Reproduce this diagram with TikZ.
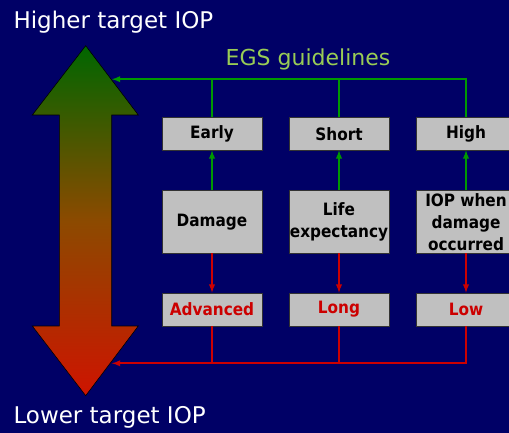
\documentclass[tikz,border=0pt]{standalone}
\usepackage{fontspec}
\setmainfont{DejaVu Sans}
\newfontfamily\boxfont{DejaVu Sans Condensed}
\usepackage{tikz}
\usetikzlibrary{positioning}
\definecolor{navy}{RGB}{0,0,102}
\definecolor{egsgreen}{RGB}{0,153,0}
\definecolor{egstext}{RGB}{153,204,85}
\definecolor{lowred}{RGB}{204,0,0}
\definecolor{boxgray}{RGB}{192,192,192}
\definecolor{arrowtop}{RGB}{0,102,0}
\definecolor{arrowmid}{RGB}{140,74,0}
\definecolor{arrowbot}{RGB}{206,20,0}
\tikzset{
  box/.style={draw=black!80, fill=boxgray, minimum width=100.6pt, minimum height=33pt,
    inner sep=1pt, align=center, font=\boxfont\bfseries\fontsize{17}{22}\selectfont},
  bigbox/.style={box, minimum height=63pt},
  redbox/.style={box, text=lowred},
  upline/.style={egsgreen, line width=1.8pt},
  downline/.style={lowred, line width=1.8pt},
  title/.style={anchor=base west, text=white, font=\fontsize{23}{26}\selectfont}
}

\begin{document}
\begin{tikzpicture}[x=1pt,y=-1pt]
\fill[navy] (0,0) rectangle (509,433);
\useasboundingbox (0,0) rectangle (509,433);
\clip (0,0) rectangle (509,433);
\node[title] (higher) at (10,28.3) {Higher target IOP};
\node[title] (lower) at (10,423) {Lower target IOP};
\node[anchor=base, text=egstext, font=\fontsize{22}{26}\selectfont] (egs) at (308,66) {EGS guidelines};
% double arrow
\shade[top color=arrowtop, bottom color=arrowbot, middle color=arrowmid, draw=black, line width=0.6pt]
  (85.7,45.7) -- (138.3,115) -- (111.7,115) -- (111.7,326) -- (138.3,326) -- (85.7,395.7)
  -- (32.3,326) -- (59.3,326) -- (59.3,115) -- (32.3,115) -- cycle;
\coordinate (hi) at (112,79.2);
\coordinate (lo) at (112,363.3);
\node[box] (early) at (212,133.7) {Early};
\node[box] (short) at (339,133.7) {Short};
\node[box] (high) at (466,133.7) {High};
\node[bigbox] (damage) at (212,221.7) {Damage};
\node[bigbox] (life) at (339,221.7) {Life\\expectancy};
\node[bigbox] (iop) at (466,221.7) {IOP when\\damage\\occurred};
\node[redbox] (advanced) at (212,309.3) {Advanced};
\node[redbox] (long) at (339,309.3) {Long};
\node[redbox] (low) at (466,309.3) {Low};
\draw[upline,-latex] (high.north) |- (hi);
\draw[upline] (early.north) -- (early.north |- hi);
\draw[upline] (short.north) -- (short.north |- hi);
\draw[upline,-latex] (damage) -- (early);
\draw[upline,-latex] (life) -- (short);
\draw[upline,-latex] (iop) -- (high);
\draw[downline,-latex] (damage) -- (advanced);
\draw[downline,-latex] (life) -- (long);
\draw[downline,-latex] (iop) -- (low);
\draw[downline,-latex] (low.south) |- (lo);
\draw[downline] (advanced.south) -- (advanced.south |- lo);
\draw[downline] (long.south) -- (long.south |- lo);
\end{tikzpicture}
\end{document}
